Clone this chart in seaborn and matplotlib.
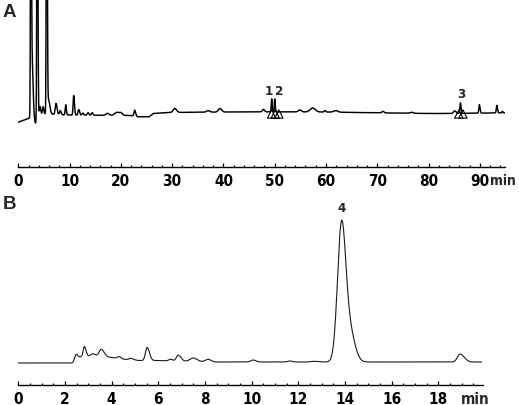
import numpy as np
import pandas as pd
import matplotlib
matplotlib.use("Agg")
import matplotlib.pyplot as plt
from matplotlib.ticker import MultipleLocator
from matplotlib import font_manager
import seaborn as sns

# ---------------- data ----------------
# Panel A: baseline knots (time, level) and peak table (time, height above baseline, sigma_left, sigma_right)
a_base_t = [0.0, 2.0, 4.0, 10.0, 22.0, 23.3, 25.5, 26.3, 29.0, 45.0, 60.0, 66.0, 80.0, 84.0, 94.9]
a_base_v = [44.3, 48.0, 53.0, 51.5, 51.0, 49.7, 49.7, 53.0, 54.0, 54.7, 54.5, 54.0, 53.0, 53.0, 53.7]
a_peak_t = [2.45, 2.65, 3.35, 3.70, 4.25, 4.85, 5.54, 5.90, 7.35, 8.20, 9.24, 10.80, 11.80, 12.60, 13.60,
            14.40, 17.40, 19.20, 20.00, 22.70, 30.50, 37.00, 39.30, 47.80, 49.40, 50.00, 54.90, 57.40,
            59.80, 61.90, 71.10, 76.70, 85.10, 86.20, 89.90, 93.30, 94.40]
a_peak_h = [400, 60, -8, 400, 7, 7, 400, 14, 11, 4, 10, 19.5, 5.5, 2, 2.5,
            2.5, 2, 3, 2.5, 6, 4, 1.5, 3.5, 2.5, 13, 13, 2, 4,
            1.5, 1.5, 1.5, 1, 2.5, 10.5, 8.5, 7.5, 1.5]
a_peak_sl = [0.07, 0.15, 0.18, 0.08, 0.12, 0.12, 0.08, 0.20, 0.15, 0.15, 0.10, 0.11, 0.15, 0.15, 0.15,
             0.15, 0.30, 0.40, 0.30, 0.14, 0.30, 0.30, 0.30, 0.20, 0.08, 0.08, 0.30, 0.50,
             0.15, 0.40, 0.20, 0.30, 0.25, 0.10, 0.10, 0.10, 0.10]
a_peak_sr = [0.09, 0.20, 0.18, 0.10, 0.12, 0.12, 0.10, 0.25, 0.20, 0.15, 0.12, 0.14, 0.15, 0.15, 0.15,
             0.15, 0.30, 0.40, 0.30, 0.18, 0.35, 0.30, 0.35, 0.20, 0.10, 0.10, 0.30, 0.50,
             0.15, 0.40, 0.20, 0.30, 0.25, 0.13, 0.13, 0.13, 0.10]
a_marks_t = [49.4, 50.1, 50.8, 85.9, 86.7]
a_marks_v = [52.5, 52.5, 52.5, 52.5, 52.5]
a_labels = ["1", "2", "3"]
a_label_t = [48.9, 50.9, 86.4]
a_label_v = [75.8, 75.8, 73.0]

# Panel B
b_base_t = [0.0, 2.3, 2.6, 3.3, 4.0, 4.6, 5.2, 6.0, 6.5, 8.5, 19.93]
b_base_v = [22.0, 22.0, 28.0, 29.5, 27.5, 25.5, 24.5, 24.5, 24.0, 23.0, 23.0]
b_peak_t = [2.48, 2.83, 3.19, 3.56, 4.32, 4.84, 5.52, 6.53, 6.85, 7.51, 8.14, 10.06, 11.64, 12.70,
            13.85, 14.20, 18.93]
b_peak_h = [5, 10, 2, 7, 2, 1.5, 13, 1.8, 6, 3.5, 2.5, 2, 1, 0.7,
            130, 30, 8]
b_peak_sl = [0.06, 0.05, 0.08, 0.09, 0.08, 0.10, 0.07, 0.08, 0.08, 0.15, 0.12, 0.10, 0.10, 0.15,
             0.17, 0.25, 0.11]
b_peak_sr = [0.06, 0.07, 0.08, 0.12, 0.08, 0.10, 0.10, 0.08, 0.12, 0.15, 0.12, 0.12, 0.10, 0.15,
             0.18, 0.22, 0.18]
b_labels = ["4"]
b_label_t = [13.85]
b_label_v = [177.0]

a_xticks = [0, 10, 20, 30, 40, 50, 60, 70, 80, 90]
b_xticks = [0, 2, 4, 6, 8, 10, 12, 14, 16, 18]
unit_label = "min"


def trace(t, base_t, base_v, pt, ph, psl, psr):
    y = np.interp(t, base_t, base_v)
    for c, h, sl, sr in zip(pt, ph, psl, psr):
        s = np.where(t < c, sl, sr)
        y = y + h * np.exp(-0.5 * ((t - c) / s) ** 2)
    return y


ta = np.linspace(0, 94.9, 6000)
tb = np.linspace(0, 19.86, 4000)
df_a = pd.DataFrame({"time": ta, "signal": trace(ta, a_base_t, a_base_v, a_peak_t, a_peak_h, a_peak_sl, a_peak_sr)})
df_b = pd.DataFrame({"time": tb, "signal": trace(tb, b_base_t, b_base_v, b_peak_t, b_peak_h, b_peak_sl, b_peak_sr)})

# ---------------- style ----------------
sns.set_theme(style="white")
fonts = font_manager.fontManager.ttflist
narrow_name, narrow_stretch = "DejaVu Sans", "normal"
for f in fonts:
    if "Narrow" in f.name and "Liberation" in f.name:
        narrow_name, narrow_stretch = f.name, "normal"
        break
else:
    for f in fonts:
        if f.name == "DejaVu Sans" and f.stretch in ("condensed", "semi-condensed", 300, 400) and f.weight in ("bold", 700):
            narrow_name, narrow_stretch = "DejaVu Sans", "condensed"
            break
plt.rcParams["font.family"] = [narrow_name, "DejaVu Sans"]
plt.rcParams["font.stretch"] = narrow_stretch

W, H = 519, 406
fig = plt.figure(figsize=(W / 100, H / 100), dpi=100)
fig.patch.set_facecolor("white")


def px_axes(left, right, top, bottom):
    return fig.add_axes([left / W, 1 - bottom / H, (right - left) / W, (bottom - top) / H])


axA = px_axes(18.3, 505, 0, 167.5)
axB = px_axes(18.3, 483.3, 195, 386)

sns.lineplot(data=df_a, x="time", y="signal", ax=axA, color="black", linewidth=1.05, estimator=None, sort=False)
sns.lineplot(data=df_b, x="time", y="signal", ax=axB, color="#1a1a1a", linewidth=0.8, estimator=None, sort=False)

sns.scatterplot(x=a_marks_t, y=a_marks_v, ax=axA, marker="^", s=36, color="none",
                edgecolor="black", linewidth=0.8, zorder=3)

tick_fs = 11
for ax, xl, yl, major, minor, ticks, pad, unit_x, unit_ha, unit_fs in [
    (axA, (0, 94.9), (0, 167.5), 10, 2, a_xticks, 5.0, 97.0, "right", 10),
    (axB, (0, 19.93), (0, 191), 2, 0.5, b_xticks, 4.5, 19.6, "center", tick_fs),
]:
    ax.set_xlim(*xl)
    ax.set_ylim(*yl)
    ax.set_facecolor("none")
    for side in ["top", "left", "right"]:
        ax.spines[side].set_visible(False)
    ax.spines["bottom"].set_color("black")
    ax.spines["bottom"].set_linewidth(1.0)
    ax.set_yticks([])
    ax.set_xticks(ticks)
    ax.set_xticklabels([str(v) for v in ticks])
    ax.xaxis.set_minor_locator(MultipleLocator(minor))
    ax.tick_params(axis="x", which="major", direction="in", length=2.6, width=0.9, color="black",
                   pad=pad, labelsize=tick_fs, labelcolor="black", bottom=True)
    ax.tick_params(axis="x", which="minor", direction="in", length=1.7, width=0.9, color="black", bottom=True)
    for lab in ax.get_xticklabels():
        lab.set_fontweight("bold")
        lab.set_fontstretch(narrow_stretch)
    ax.set_xlabel("")
    ax.set_ylabel("")
    ax.annotate(unit_label, xy=(unit_x, 0), xycoords=("data", "axes fraction"),
                xytext=(0, -pad), textcoords="offset points", ha=unit_ha, va="top",
                fontsize=unit_fs, fontweight="bold", fontstretch=narrow_stretch, annotation_clip=False)

for lab, t, v in zip(a_labels, a_label_t, a_label_v):
    axA.text(t, v, lab, ha="center", va="center", fontsize=9.5, fontweight="bold", fontstretch=narrow_stretch)
for lab, t, v in zip(b_labels, b_label_t, b_label_v):
    axB.text(t, v, lab, ha="center", va="center", fontsize=9.5, fontweight="bold", fontstretch=narrow_stretch)

fig.text(3 / W, 1 - 12.5 / H, "A", ha="left", va="center", fontsize=13.5, fontweight="bold",
         family=["Liberation Sans", "DejaVu Sans"], fontstretch="normal")
fig.text(3 / W, 1 - 205 / H, "B", ha="left", va="center", fontsize=13.5, fontweight="bold",
         family=["Liberation Sans", "DejaVu Sans"], fontstretch="normal")

fig.savefig("out.png", dpi=100, facecolor="white")
